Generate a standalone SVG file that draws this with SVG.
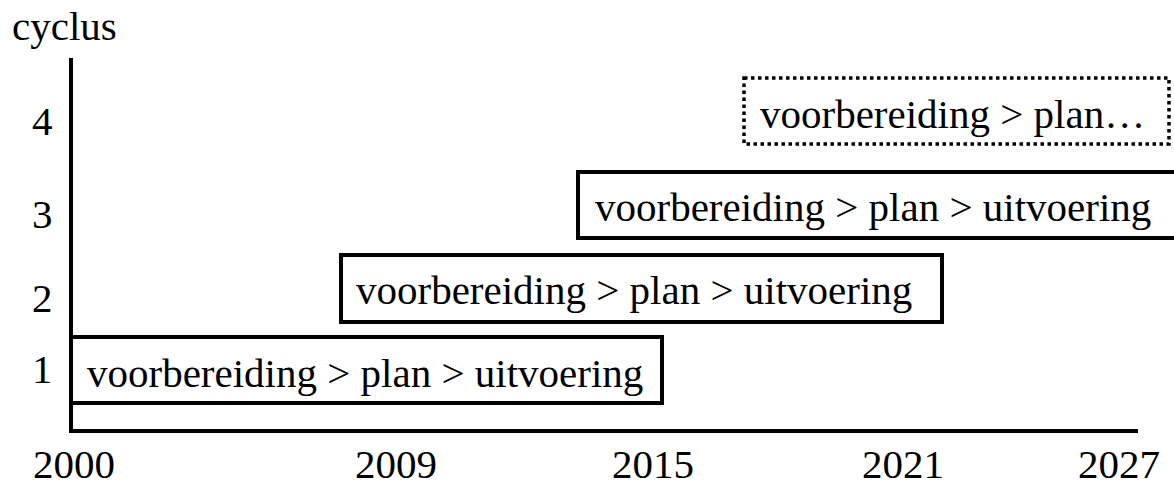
<svg xmlns="http://www.w3.org/2000/svg" width="1174" height="488" viewBox="0 0 1174 488">
<style>
text{font-family:"Liberation Serif","Times New Roman",serif;font-size:41px;fill:#000}
.box{fill:#fff;stroke:#000;stroke-width:4}
.dot{fill:#fff;stroke:#000;stroke-width:3.5;stroke-dasharray:3.5 3.5}
.axis{stroke:#000;stroke-width:4;fill:none}
</style>
<rect width="1174" height="488" fill="#fff"/>
<g id="axes">
<line class="axis" x1="71" y1="58" x2="71" y2="431"/>
<line class="axis" x1="69" y1="431" x2="1138" y2="431"/>
<text x="12" y="40">cyclus</text>
<text x="32" y="135">4</text>
<text x="32" y="228">3</text>
<text x="32" y="312">2</text>
<text x="32" y="383">1</text>
<text x="33" y="478">2000</text>
<text x="355" y="478">2009</text>
<text x="612" y="478">2015</text>
<text x="862" y="478">2021</text>
<text x="1078" y="478">2027</text>
</g>
<g id="cycle1">
<rect class="box" x="71" y="337" width="591" height="66"/>
<text x="87" y="387">voorbereiding &gt; plan &gt; uitvoering</text>
</g>
<g id="cycle2">
<rect class="box" x="341" y="255" width="601" height="67"/>
<text x="356" y="304">voorbereiding &gt; plan &gt; uitvoering</text>
</g>
<g id="cycle3">
<rect class="box" x="578" y="172" width="598" height="66"/>
<text x="595" y="221">voorbereiding &gt; plan &gt; uitvoering</text>
</g>
<g id="cycle4">
<rect class="dot" x="744" y="78" width="425" height="66"/>
<text x="760" y="128">voorbereiding &gt; plan…</text>
</g>
<g id="connectors"></g>
</svg>
